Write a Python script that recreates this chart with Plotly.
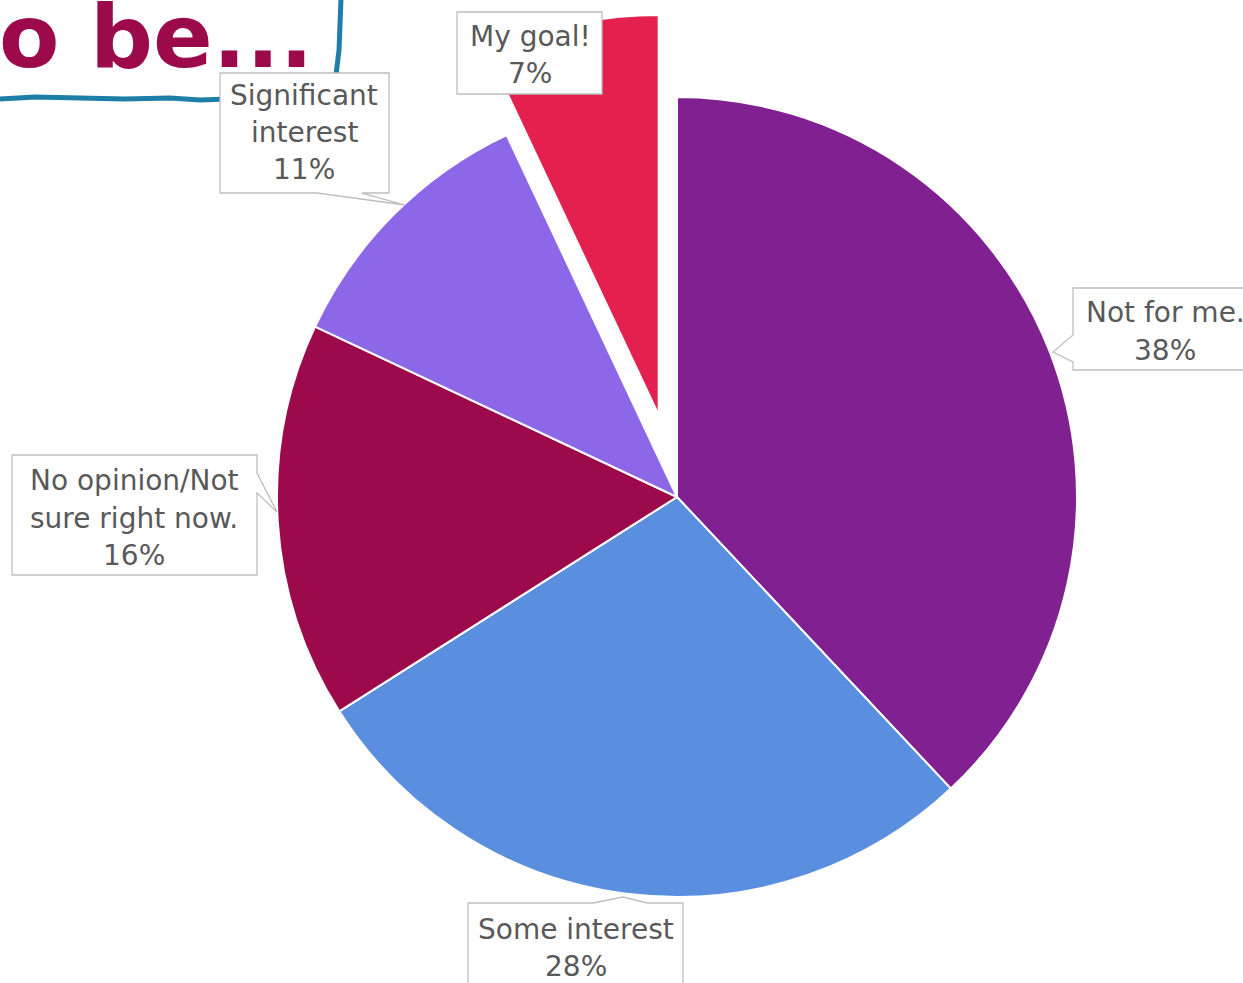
import plotly.graph_objects as go

# ---- data -------------------------------------------------------------
categories = ["Not for me.", "Some interest", "No opinion/Not sure right now.",
              "Significant interest", "My goal!"]
values = [38, 28, 16, 11, 7]
colors = ["#802091", "#5A8FE0", "#9C0A4B", "#8C67E8", "#E3204E"]
pulls = [0, 0, 0, 0, 0.21]

# label text lines (category split over lines, then the value)
label_lines = [
    ["Not for me."],
    ["Some interest"],
    ["No opinion/Not", "sure right now."],
    ["Significant", "interest"],
    ["My goal!"],
]

W, H = 1243, 983


def px(x, y):
    """pixel -> paper coordinates"""
    return x / W, 1 - y / H


def path(points, close=True):
    s = ""
    for i, (x, y) in enumerate(points):
        a, b = px(x, y)
        s += ("M" if i == 0 else "L") + f"{a:.5f},{b:.5f} "
    return s + ("Z" if close else "")


# pie geometry (pixels)
cx, cy, r = 677, 497, 400
half = r * (1 + max(pulls))

fig = go.Figure(go.Pie(
    labels=categories,
    values=values,
    sort=False,
    direction="clockwise",
    rotation=0,
    pull=pulls,
    marker=dict(colors=colors, line=dict(color="white", width=2)),
    textinfo="none",
    hoverinfo="label+percent",
    showlegend=False,
    domain=dict(x=[(cx - half) / W, (cx + half) / W],
                y=[1 - (cy + half) / H, 1 - (cy - half) / H]),
))

# ---- callout boxes ---------------------------------------------------
box_style = dict(type="path", xref="paper", yref="paper", layer="above",
                 line=dict(color="#BFBFBF", width=1.3), fillcolor="white")
callouts = [
    # Not for me (pointer on the left side)
    [(1073, 288), (1260, 288), (1260, 370), (1073, 370), (1073, 362),
     (1053, 352), (1073, 335)],
    # Some interest (pointer on top)
    [(468, 903), (593, 903), (623, 897), (647, 903), (683, 903),
     (683, 1000), (468, 1000)],
    # No opinion (pointer on right)
    [(12, 455), (257, 455), (257, 473), (277, 512), (257, 493),
     (257, 575), (12, 575)],
    # Significant interest (pointer at bottom)
    [(220, 73), (389, 73), (389, 193), (362, 193), (405, 205),
     (317, 193), (220, 193)],
    # My goal!
    [(457, 12), (602, 12), (602, 94), (457, 94)],
]

# text line centres for each label (pixels)
text_pos = [
    (1165, [312, 350]),
    (576, [929, 966]),
    (134, [480, 518, 555]),
    (304, [95, 133, 170]),
    (530, [37, 73]),
]

# hand-drawn frame around the heading
frame_h = [(0, 99), (35, 97), (80, 98), (125, 99), (170, 98), (200, 100), (228, 99)]
frame_v = [(341, -2), (340, 25), (339, 50), (336, 75)]
shapes = [
    dict(type="path", xref="paper", yref="paper", layer="above",
         path=path(frame_h, close=False), line=dict(color="#1D7EA8", width=5)),
    dict(type="path", xref="paper", yref="paper", layer="above",
         path=path(frame_v, close=False), line=dict(color="#1D7EA8", width=5)),
]
for pts in callouts:
    shapes.append(dict(box_style, path=path(pts)))

annotations = []
for lines, v, (tx, ys) in zip(label_lines, values, text_pos):
    for text, ty in zip(lines + [f"{v}%"], ys):
        x, y = px(tx, ty)
        annotations.append(dict(
            x=x, y=y, xref="paper", yref="paper", text=text, showarrow=False,
            xanchor="center", yanchor="middle",
            font=dict(family="DejaVu Sans", size=28, color="#595959")))

# heading fragment
hx, hy = px(-3, 36)
annotations.append(dict(
    x=hx, y=hy, xref="paper", yref="paper", text="<b>o be...</b>",
    showarrow=False, xanchor="left", yanchor="middle",
    font=dict(family="DejaVu Sans", size=88, color="#9C0A4B")))

fig.update_layout(
    width=W, height=H,
    margin=dict(l=0, r=0, t=0, b=0),
    paper_bgcolor="white", plot_bgcolor="white",
    shapes=shapes, annotations=annotations,
)

fig.write_html("out.html")
